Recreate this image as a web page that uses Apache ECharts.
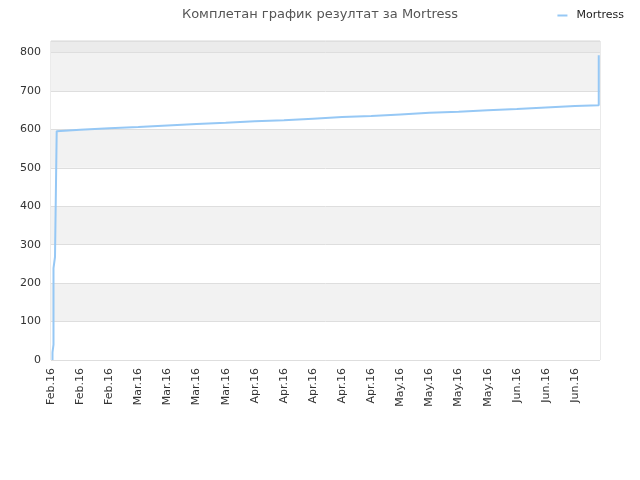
<!DOCTYPE html>
<html lang="sr">
<head>
    <meta charset="UTF-8">
    <title>Mortress</title>
    <script src="https://cdn.jsdelivr.net/npm/echarts@6/dist/echarts.min.js"></script>
</head>
<body style="margin: 0">
<div id="container" style="width: 640px; height: 480px"></div>
<script type="text/javascript">
    // x values are days since the first day of the axis (12 Feb 2016)
    var startDate = [2016, 1, 12];
    var days = [0.36, 0.36, 0.6, 0.6, 0.96, 0.96, 1.37, 1.37, 7, 14, 21, 28, 35, 42, 49, 56, 63, 70, 77, 84, 91, 98, 105, 112, 119, 126, 131.7, 131.7];
    var scores = [0, 20, 40, 239, 239, 268, 268, 595, 599, 603, 606, 610, 614, 617, 621, 624, 628, 632, 635, 639, 643, 646, 650, 653, 657, 661, 663, 793];
    var monthNames = ['Jan', 'Feb', 'Mar', 'Apr', 'May', 'Jun', 'Jul', 'Aug', 'Sep', 'Oct', 'Nov', 'Dec'];
    var bandColors = ['#ffffff', '#f2f2f2', '#ffffff', '#f2f2f2', '#ffffff', '#f2f2f2', '#ffffff', '#f2f2f2', '#ebebeb'];

    function dayLabel(v) {
        var d = new Date(startDate[0], startDate[1], startDate[2] + Math.round(v));
        return monthNames[d.getMonth()] + '.' + String(d.getFullYear()).slice(2);
    }

    var points = [];
    for (var i = 0; i < days.length; i++) {
        points.push([days[i], scores[i]]);
    }

    var myChart = echarts.init(document.getElementById('container'));
    var option = {
        animation: false,
        textStyle: {fontFamily: 'DejaVu Sans'},
        title: {
            text: 'Комплетан график резултат за Mortress',
            left: 'center',
            top: 3,
            textStyle: {fontSize: 13, fontWeight: 'normal', color: '#555', fontFamily: 'DejaVu Sans'}
        },
        legend: {
            right: 11,
            top: 5,
            icon: 'rect',
            itemWidth: 10,
            itemHeight: 2,
            textStyle: {fontSize: 11, color: '#222', padding: [0, 0, 0, 4]},
            data: ['Mortress']
        },
        grid: {
            left: 51, right: 40, top: 41, bottom: 120,
            show: true, borderColor: '#d6d6d6', borderWidth: 1
        },
        xAxis: {
            type: 'value',
            min: 0,
            max: 132,
            interval: 7,
            axisLine: {show: false},
            axisTick: {show: false},
            splitLine: {show: false},
            axisLabel: {
                rotate: 90,
                fontSize: 11,
                color: '#333',
                margin: 8,
                showMaxLabel: false,
                formatter: dayLabel
            }
        },
        yAxis: {
            type: 'value',
            min: 0,
            max: 830,
            interval: 100,
            axisLine: {show: false},
            axisTick: {show: false},
            axisLabel: {fontSize: 11, color: '#333', margin: 10, showMaxLabel: false},
            splitLine: {lineStyle: {color: '#dedede'}},
            splitArea: {show: true, areaStyle: {color: bandColors}}
        },
        series: [{
            name: 'Mortress',
            type: 'line',
            data: points,
            showSymbol: false,
            color: '#96c8f5',
            lineStyle: {width: 2, color: '#96c8f5'}
        }]
    };
    myChart.setOption(option);
</script>
</body>
</html>
